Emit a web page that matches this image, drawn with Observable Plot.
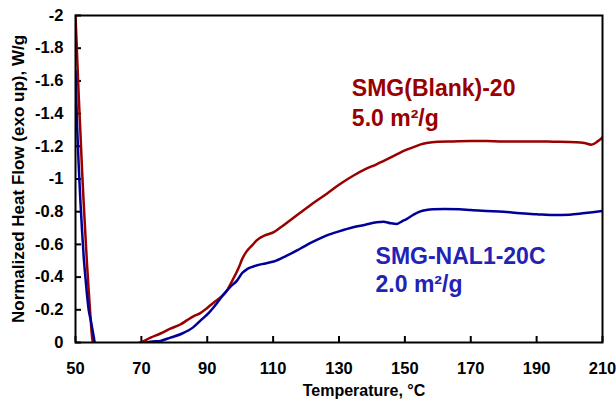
<!DOCTYPE html>
<html><head><meta charset="utf-8">
<script src="https://cdn.jsdelivr.net/npm/d3@7"></script>
<script src="https://cdn.jsdelivr.net/npm/@observablehq/plot@0.6"></script>
<style>
body{margin:0;background:#fff;}
</style></head><body><div id="chart"></div>
<script>
const xTicks = [50, 70, 90, 110, 130, 150, 170, 190, 210];
const yTicks = [0, -0.2, -0.4, -0.6, -0.8, -1, -1.2, -1.4, -1.6, -1.8, -2];

const blankName = "SMG(Blank)-20\n5.0 m²/g";
const nalName = "SMG-NAL1-20C\n2.0 m²/g";

const blankTemp = [50, 50.5, 51, 51.5, 52, 52.5, 53, 53.5, 54, 54.5, 55, 55.6, 60,
  66.7, 69.7, 72.8, 75.8, 78.8, 81.8, 83.8, 85.8, 87.9, 89.9, 92, 94, 96.1, 97, 97.9, 98.8, 99.6, 100.6, 101.7, 102.7, 103.7, 105,
  107.5, 110.2, 112, 115, 118, 122, 126.3, 130, 134.3, 138, 141.4, 144.5, 147.5, 150, 152.6, 154.6, 156.6, 160, 164.6, 170, 175, 178.8, 184, 188.9, 195, 202, 204.5, 206.6, 208.5, 210];
const blankFlow = [-2.0, -1.75, -1.5, -1.28, -1.05, -0.85, -0.66, -0.48, -0.32, -0.17, -0.04, 0.03, NaN,
  0.02, 0.0, -0.03, -0.055, -0.085, -0.11, -0.135, -0.16, -0.18, -0.21, -0.245, -0.275, -0.32, -0.355, -0.39, -0.425, -0.46, -0.51, -0.55, -0.575, -0.595, -0.625,
  -0.655, -0.675, -0.70, -0.745, -0.79, -0.85, -0.91, -0.965, -1.02, -1.06, -1.09, -1.12, -1.15, -1.175, -1.195, -1.21, -1.22, -1.228, -1.23, -1.232, -1.232, -1.23, -1.23, -1.23, -1.228, -1.225, -1.22, -1.21, -1.23, -1.255];

const nalTemp = [50, 50.5, 51, 51.5, 52, 52.5, 53, 53.5, 54, 54.7, 55.4, 56, 62,
  69.7, 72.8, 75.8, 78.8, 82.4, 85.8, 88, 90.4, 93.1, 95, 97, 99.1, 100.6, 102.2, 104, 106.2, 108, 110.2,
  114, 118.3, 122, 126.3, 130, 134.3, 138, 141.4, 143.5, 145.5, 147.5, 149, 150.5, 152.5, 154.5, 156.5, 158.6, 162, 166.7, 170, 174.8, 180, 185, 190, 195, 200, 204, 207, 210];
const nalFlow = [-1.66, -1.32, -1.07, -0.86, -0.68, -0.52, -0.40, -0.29, -0.20, -0.13, -0.05, 0.02, NaN,
  0.01, -0.005, -0.01, -0.03, -0.055, -0.094, -0.135, -0.18, -0.245, -0.295, -0.34, -0.38, -0.425, -0.45, -0.465, -0.478, -0.485, -0.495,
  -0.53, -0.575, -0.615, -0.655, -0.68, -0.705, -0.72, -0.735, -0.738, -0.73, -0.725, -0.74, -0.755, -0.78, -0.80, -0.81, -0.815, -0.817, -0.815, -0.81, -0.805, -0.80, -0.79, -0.785, -0.78, -0.782, -0.79, -0.797, -0.805];

const blank = blankTemp.map((t, i) => ({t, f: blankFlow[i]}));
const nal = nalTemp.map((t, i) => ({t, f: nalFlow[i]}));

const red = "#990000", navy = "#000099", blueText = "#2222b4";
const font = "'Liberation Sans', Arial, sans-serif";

const chart = Plot.plot({
  width: 616, height: 406,
  marginLeft: 75, marginRight: 14, marginTop: 15, marginBottom: 64,
  style: {fontFamily: font, fontWeight: "bold", fontSize: "16.5px", color: "#000", background: "#fff", overflow: "visible"},
  x: {domain: [50, 210]},
  y: {domain: [0, -2]},
  marks: [
    Plot.axisX({ticks: xTicks, tickSize: -6, tickPadding: 26, tickFormat: d => String(d), label: null, strokeWidth: 2, fontSize: 16.5}),
    Plot.axisY({ticks: yTicks, tickSize: -6, tickPadding: 18, tickFormat: d => String(d), label: null, strokeWidth: 2, fontSize: 16.5}),
    Plot.line(blank, {x: "t", y: "f", stroke: red, strokeWidth: 2.5, curve: "monotone-x", clip: true}),
    Plot.line(nal, {x: "t", y: "f", stroke: navy, strokeWidth: 2.5, curve: "monotone-x", clip: true}),
    Plot.frame({stroke: "#000", strokeWidth: 2}),
    Plot.text([blankName], {x: 133.9, y: -1.327, text: d => d, textAnchor: "start", lineAnchor: "bottom", lineHeight: 1.27, fill: red, fontSize: 23, fontWeight: "bold"}),
    Plot.text([nalName], {x: 141.1, y: -0.306, text: d => d, textAnchor: "start", lineAnchor: "bottom", lineHeight: 1.22, fill: blueText, fontSize: 23, fontWeight: "bold"}),
    Plot.text(["Normalized Heat Flow (exo up), W/g"], {frameAnchor: "left", textAnchor: "middle", rotate: -90, dx: -57, text: d => d, fontSize: 17, fontWeight: "bold"}),
    Plot.text(["Temperature, °C"], {frameAnchor: "bottom", textAnchor: "middle", dy: 53, dx: 25, text: d => d, fontSize: 16, fontWeight: "bold"})
  ]
});
document.getElementById("chart").appendChild(chart);
</script>
</body></html>
